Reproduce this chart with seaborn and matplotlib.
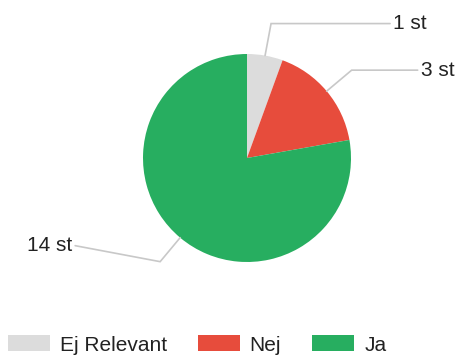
import numpy as np
import matplotlib
matplotlib.use("Agg")
import matplotlib.pyplot as plt
import seaborn as sns
from matplotlib.patches import Patch

sns.set_theme(style="white")
plt.rcParams['font.family'] = ['Liberation Sans', 'DejaVu Sans']

categories = ["Ej Relevant", "Nej", "Ja"]
counts = [1, 3, 14]
labels = ["1 st", "3 st", "14 st"]
colors = ["#dcdcdc", "#e74c3c", "#27ae60"]
palette = sns.color_palette(colors)

W, H = 459, 356
fig = plt.figure(figsize=(W / 100, H / 100), dpi=100)
ax = fig.add_axes([0, 0, 1, 1])

cx, cy, r = 247, H - 158, 104
wedges, _ = ax.pie(counts, colors=palette, startangle=90, counterclock=False,
                   center=(cx, cy), radius=r, frame=True,
                   wedgeprops=dict(linewidth=0))
ax.set_xlim(0, W)
ax.set_ylim(0, H)
ax.set_aspect("equal")
ax.axis("off")

FS = 15

# leader lines: (elbow offset from wedge edge, horizontal run length)
leaders = [((6, 32), 119), ((25, 21), 66), ((-20, -24), -85)]
for w, lab, (off, run) in zip(wedges, labels, leaders):
    mid = np.deg2rad((w.theta1 + w.theta2) / 2)
    ex, ey = cx + r * np.cos(mid), cy + r * np.sin(mid)
    bx, by = ex + off[0], ey + off[1]
    endx = bx + run
    endy = by if run > 0 else by + 16
    ax.plot([ex, bx, endx], [ey, by, endy], color="#c8c8c8", lw=1.2,
            solid_joinstyle="miter", zorder=1)
    ha = "left" if run > 0 else "right"
    ax.text(endx + (3 if run > 0 else -3), endy, lab, ha=ha, va="center",
            fontsize=FS, color="#222222")

handles = [Patch(facecolor=c, edgecolor="none", label=n) for c, n in zip(palette, categories)]
leg = ax.legend(handles=handles, loc="center left",
                bbox_to_anchor=(8 / W, (H - 345) / H),
                ncol=3, frameon=False, fontsize=FS, handlelength=2.0,
                handleheight=0.77, handletextpad=0.48, columnspacing=1.5,
                borderaxespad=0, borderpad=0)
for t in leg.get_texts():
    t.set_color("#222222")

fig.savefig("out.png", dpi=100)
